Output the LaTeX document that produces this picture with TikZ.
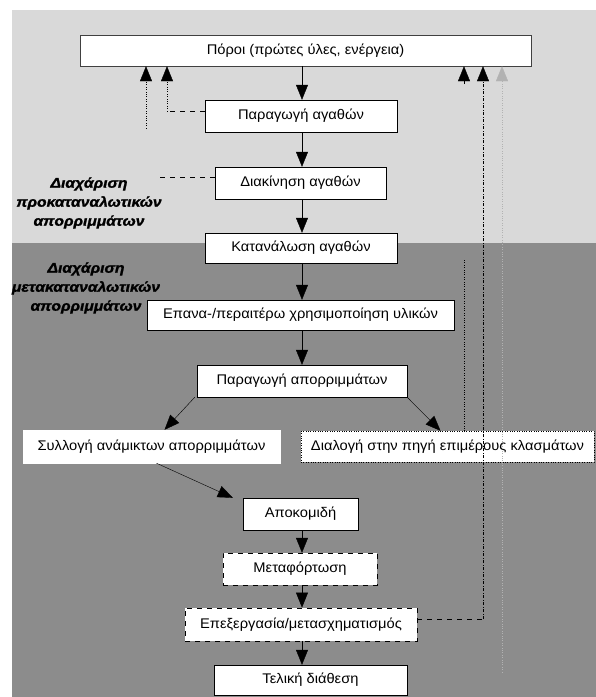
\documentclass[tikz,border=0pt]{standalone}
\usepackage{fontspec}
\setmainfont{Liberation Sans}
\newfontfamily\koutifont[FakeStretch=1.05]{Liberation Sans}
\newfontfamily\titlosfont[FakeStretch=1.12,FakeBold=1.5]{Liberation Sans}
\usetikzlibrary{arrows.meta}

\definecolor{anoixto}{gray}{0.85}
\definecolor{skouro}{gray}{0.55}
\tikzset{belos/.style={-{Triangle[length=15pt,width=12pt]},thin,color=black}}

\begin{document}
\begin{tikzpicture}[x=1pt,y=-1pt,
	box/.style={rectangle,draw=black,fill=white,thin,inner sep=0pt,font=\koutifont\fontsize{14}{16}\selectfont},
	titlos/.style={align=center,font=\titlosfont\fontsize{14}{19}\selectfont\bfseries\itshape},
	diakekomeni/.style={dash pattern=on 5pt off 5pt,thin},
	stikti/.style={dotted,thin},
	dashdot/.style={dash pattern=on 3pt off 1.5pt on 1pt off 1.5pt,thin},
	]
	
	\useasboundingbox (0,0) rectangle (596,697);
	\fill[anoixto] (12,10) rectangle (596,243);
	\fill[skouro] (12,243) rectangle (596,697);
	
	% boxes
	\node[box,draw=darkgray,minimum width=451pt,minimum height=31pt] (poroi) at (305.5,50.5) {Πόροι (πρώτες ύλες, ενέργεια)};
	\node[box,minimum width=192pt,minimum height=32pt] (paragogi) at (301,116) {Παραγωγή αγαθών};
	\node[box,minimum width=171pt,minimum height=32pt] (diakinisi) at (300.5,183) {Διακίνηση αγαθών};
	\node[box,minimum width=192pt,minimum height=30pt] (katanalosi) at (301,248) {Κατανάλωση αγαθών};
	\node[box,minimum width=307pt,minimum height=30pt] (epanaxrisi) at (300.5,315) {Επανα-/περαιτέρω χρησιμοποίηση υλικών};
	\node[box,minimum width=210pt,minimum height=32pt] (aporrimata) at (302,381) {Παραγωγή απορριμμάτων};
	\node[box,draw=white,minimum width=257pt,minimum height=33pt] (syllogi) at (151.5,446.5) {Συλλογή ανάμικτων απορριμμάτων};
	\node[box,stikti,minimum width=293pt,minimum height=31pt] (dialogi) at (447.5,446.5) {Διαλογή στην πηγή επιμέρους κλασμάτων};
	\node[box,minimum width=115pt,minimum height=32pt] (apokomidi) at (300.5,514) {Αποκομιδή};
	\node[box,diakekomeni,minimum width=154pt,minimum height=32pt] (metafortosi) at (300,569) {Μεταφόρτωση};
	\node[box,diakekomeni,thick,minimum width=232pt,minimum height=33pt] (epexergasia) at (301,624.5) {Επεξεργασία/μετασχηματισμός};
	\node[box,minimum width=193pt,minimum height=30pt] (teliki) at (310.5,680) {Τελική διάθεση};
	
	% labels
	\node[titlos] (proLabel) at (89,203) {Διαχάριση\\προκαταναλωτικών\\απορριμμάτων};
	\node[titlos] (metaLabel) at (86,288) {Διαχάριση\\μετακαταναλωτικών\\απορριμμάτων};
	
	% main flow
	\coordinate (axon) at (302,0);
	\draw[belos] (poroi.south -| axon) -- (paragogi.north -| axon);
	\draw[belos] (paragogi.south -| axon) -- (diakinisi.north -| axon);
	\draw[belos] (diakinisi.south -| axon) -- (katanalosi.north -| axon);
	\draw[belos] (katanalosi.south -| axon) -- (epanaxrisi.north -| axon);
	\draw[belos] (epanaxrisi.south -| axon) -- (aporrimata.north -| axon);
	\draw[belos] ([xshift=-2pt]aporrimata.south west) -- ([xshift=13pt]syllogi.north);
	\draw[belos] (aporrimata.south east) -- ([xshift=-7pt]dialogi.north);
	\draw[belos] ([xshift=5pt]syllogi.south) -- ([xshift=-10pt]apokomidi.north west);
	\draw[belos] (apokomidi.south -| axon) -- (metafortosi.north -| axon);
	\draw[belos] (metafortosi.south -| axon) -- (epexergasia.north -| axon);
	\draw[belos] (epexergasia.south -| axon) -- (teliki.north -| axon);
	
	% feedback, left
	\coordinate (gonia1) at (167,111);
	\coordinate (akro1) at (146,128);
	\coordinate (akro2) at (155,177);
	\draw[diakekomeni] ([yshift=5pt]paragogi.west) -- (gonia1);
	\draw[belos,stikti] (gonia1) -- (gonia1 |- poroi.south);
	\draw[belos,stikti] (akro1) -- (akro1 |- poroi.south);
	\draw[diakekomeni] ([yshift=6pt]diakinisi.west) -- (akro2);
	
	% feedback, right
	\coordinate (stili1) at (464,84);
	\coordinate (akro3) at (464,260);
	\coordinate (gonia2) at (483,619);
	\coordinate (akro4) at (502,672);
	\draw[belos] (stili1) -- (stili1 |- poroi.south);
	\draw[stikti] (dialogi.north -| akro3) -- (akro3);
	\draw[diakekomeni] ([yshift=5.5pt]epexergasia.east) -- (gonia2);
	\draw[belos,dashdot] (gonia2) -- (gonia2 |- poroi.south);
	\draw[belos,stikti,gray!60] (akro4) -- (akro4 |- poroi.south);

\end{tikzpicture}
\end{document}
